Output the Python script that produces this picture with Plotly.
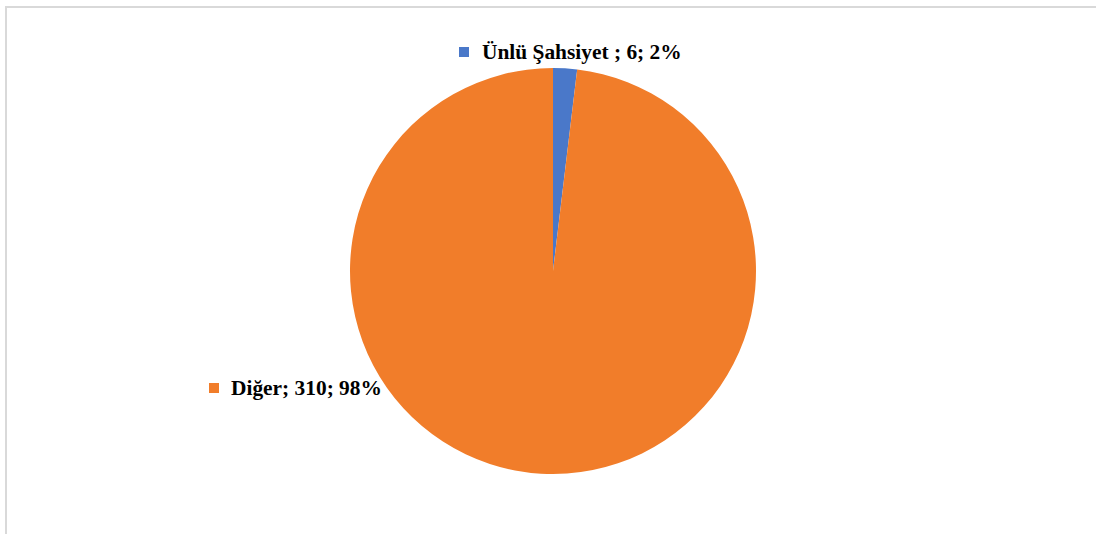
import plotly.graph_objects as go

categories = ["Ünlü Şahsiyet ", "Diğer"]
values = [6, 310]
percents = [2, 98]
colors = ["#4A78C9", "#F17D2A"]

W, H = 1096, 534
cx, cy, r = 553, 271, 203

fig = go.Figure(go.Pie(
    labels=categories, values=values, sort=False, direction="clockwise", rotation=0,
    textinfo="none", hoverinfo="label+value+percent",
    marker=dict(colors=colors, line=dict(width=0)),
    domain=dict(x=[(cx - r) / W, (cx + r) / W], y=[(H - cy - r) / H, (H - cy + r) / H]),
    showlegend=False,
))

labels = [f"{c}; {v}; {p}%" for c, v, p in zip(categories, values, percents)]
# label anchor positions (px): key square left x, center y; text left x
label_pos = [(459, 52, 480), (209, 388, 229)]
for (sx, sy, tx), txt, col in zip(label_pos, labels, colors):
    fig.add_shape(type="rect", xref="paper", yref="paper",
                  x0=sx / W, x1=(sx + 10) / W, y0=1 - (sy + 5) / H, y1=1 - (sy - 5) / H,
                  fillcolor=col, line=dict(width=0))
    fig.add_annotation(xref="paper", yref="paper", x=tx / W, y=1 - sy / H,
                       xanchor="left", yanchor="middle", showarrow=False,
                       text=f"<b>{txt}</b>",
                       font=dict(family="Liberation Serif", size=21.4, color="#000000"))

fig.add_shape(type="rect", xref="paper", yref="paper",
              x0=6 / W, x1=1.02, y0=-0.02, y1=1 - 7 / H,
              line=dict(color="#d9d9d9", width=2), fillcolor="rgba(0,0,0,0)")

fig.update_layout(width=W, height=H, margin=dict(l=0, r=0, t=0, b=0),
                  paper_bgcolor="white", plot_bgcolor="white")
fig.write_html("out.html", config={"displayModeBar": False},
               post_script="document.body.style.margin='0px';")
